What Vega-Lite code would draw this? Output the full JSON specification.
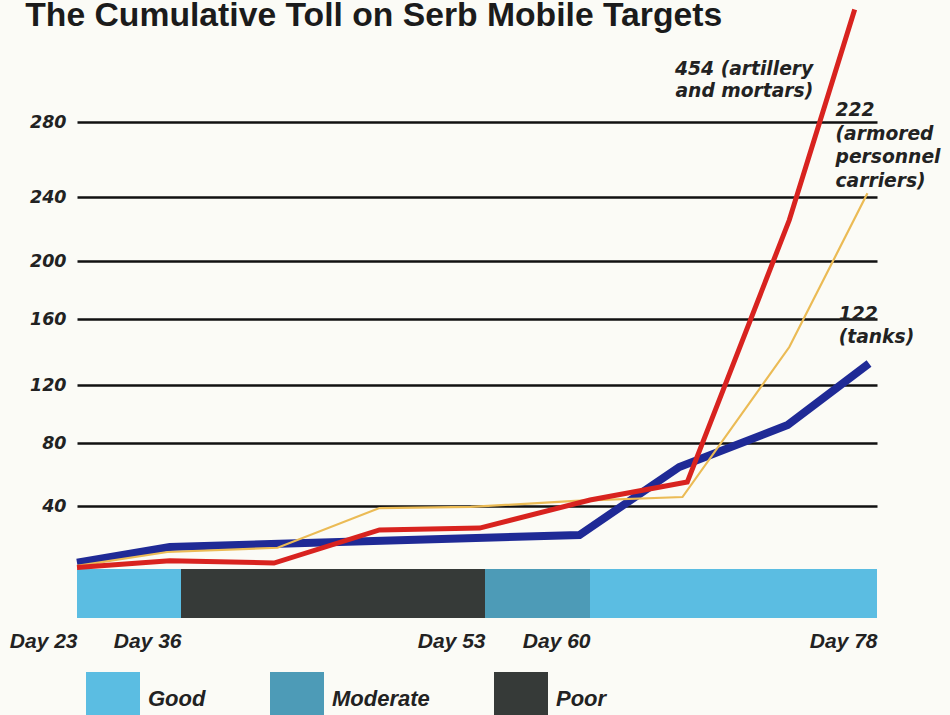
{
  "$schema": "https://vega.github.io/schema/vega-lite/v6.json",
  "width": 800,
  "height": 618,
  "autosize": {"type": "none"},
  "padding": {"left": 77, "top": 0, "right": 73, "bottom": 97},
  "background": "#fbfbf6",
  "title": {
    "text": "The Cumulative Toll on Serb Mobile Targets",
    "anchor": "start",
    "frame": "bounds",
    "font": "Liberation Sans",
    "fontSize": 33.7,
    "fontWeight": "bold",
    "color": "#1b1b1b",
    "baseline": "alphabetic",
    "offset": 0,
    "dy": 60,
    "dx": 16
  },
  "config": {"view": {"stroke": null}},
  "datasets": {
    "weather": [
      {"start": 23, "end": 36, "condition": "Good"},
      {"start": 36, "end": 53, "condition": "Poor"},
      {"start": 53, "end": 60, "condition": "Moderate"},
      {"start": 60, "end": 78, "condition": "Good"}
    ],
    "toll": [
      {"weapon": "Tanks", "day": 23, "count": 4},
      {"weapon": "Tanks", "day": 34.6, "count": 14},
      {"weapon": "Tanks", "day": 41.5, "count": 16},
      {"weapon": "Tanks", "day": 59.3, "count": 21.6},
      {"weapon": "Tanks", "day": 65.6, "count": 64.8},
      {"weapon": "Tanks", "day": 72.4, "count": 92.4},
      {"weapon": "Tanks", "day": 77.5, "count": 133},
      {"weapon": "APC", "day": 23, "count": 2},
      {"weapon": "APC", "day": 34.3, "count": 10.8},
      {"weapon": "APC", "day": 41.4, "count": 13.5},
      {"weapon": "APC", "day": 47.1, "count": 38.7},
      {"weapon": "APC", "day": 52.2, "count": 39.4},
      {"weapon": "APC", "day": 59, "count": 43.2},
      {"weapon": "APC", "day": 65.8, "count": 45.7},
      {"weapon": "APC", "day": 72.5, "count": 143},
      {"weapon": "APC", "day": 77.4, "count": 242},
      {"weapon": "Artillery", "day": 23, "count": 1},
      {"weapon": "Artillery", "day": 34.6, "count": 5.3},
      {"weapon": "Artillery", "day": 41.2, "count": 3.8},
      {"weapon": "Artillery", "day": 47.1, "count": 24.8},
      {"weapon": "Artillery", "day": 52.7, "count": 26},
      {"weapon": "Artillery", "day": 60, "count": 43.8},
      {"weapon": "Artillery", "day": 66.1, "count": 55.2},
      {"weapon": "Artillery", "day": 72.5, "count": 225.6},
      {"weapon": "Artillery", "day": 76.6, "count": 340}
    ]
  },
  "layer": [
    {
      "data": {"name": "weather"},
      "mark": {"type": "rect"},
      "encoding": {
        "x": {
          "field": "start", "type": "quantitative",
          "scale": {"domain": [23, 36, 53, 60, 78], "range": [0, 104, 408, 513, 800], "nice": false, "zero": false},
          "axis": {
            "values": [23, 36, 53, 60, 78],
            "labelExpr": "'Day ' + datum.value",
            "title": null, "domain": false, "ticks": false, "tickSize": 0, "grid": false,
            "labelAlign": "right", "labelBaseline": "top", "labelPadding": 12,
            "labelFont": "Liberation Sans", "labelFontSize": 21, "labelFontWeight": "bold", "labelFontStyle": "italic",
            "labelColor": "#222222", "labelBound": false, "labelOverlap": false, "labelFlush": false
          }
        },
        "x2": {"field": "end"},
        "y": {
          "datum": 0, "type": "quantitative",
          "scale": {"domain": [-30, 0, 40, 80, 120, 160, 200, 240, 280], "range": [618, 569, 506, 443, 385, 319, 261, 197, 122], "nice": false, "zero": false},
          "axis": {
            "values": [40, 80, 120, 160, 200, 240, 280],
            "title": null, "domain": false, "ticks": false, "tickSize": 0,
            "grid": true, "gridColor": "#111111", "gridWidth": 2.5, "gridOpacity": 1,
            "labelPadding": 11, "labelFont": "DejaVu Sans", "labelFontSize": 17.5, "labelFontWeight": "bold", "labelFontStyle": "italic",
            "labelColor": "#222222", "labelBaseline": "middle", "labelOverlap": false, "labelBound": false, "labelFlush": false
          }
        },
        "y2": {"datum": -30},
        "fill": {
          "field": "condition", "type": "nominal",
          "scale": {"domain": ["Good", "Moderate", "Poor"], "range": ["#5bbde2", "#4d9bb7", "#363a38"]},
          "legend": {
            "title": null, "orient": "bottom", "direction": "horizontal",
            "symbolType": "square", "symbolSize": 2916, "symbolStrokeWidth": 0, "symbolOpacity": 1,
            "labelFont": "Liberation Sans", "labelFontSize": 22, "labelFontWeight": "bold", "labelFontStyle": "italic",
            "labelColor": "#222222", "labelOffset": 8, "columnPadding": 64, "offset": 12, "padding": 9
          }
        }
      }
    },
    {
      "data": {"name": "toll"},
      "transform": [{"filter": "datum.weapon === 'Tanks'"}],
      "mark": {"type": "line", "color": "#1f2a96", "strokeWidth": 8},
      "encoding": {
        "x": {"field": "day", "type": "quantitative"},
        "y": {"field": "count", "type": "quantitative"}
      }
    },
    {
      "data": {"name": "toll"},
      "transform": [{"filter": "datum.weapon === 'APC'"}],
      "mark": {"type": "line", "color": "#ebbb55", "strokeWidth": 2.2},
      "encoding": {
        "x": {"field": "day", "type": "quantitative"},
        "y": {"field": "count", "type": "quantitative"}
      }
    },
    {
      "data": {"name": "toll"},
      "transform": [{"filter": "datum.weapon === 'Artillery'"}],
      "mark": {"type": "line", "color": "#d8231f", "strokeWidth": 5},
      "encoding": {
        "x": {"field": "day", "type": "quantitative"},
        "y": {"field": "count", "type": "quantitative"}
      }
    },
    {
      "data": {"values": [{"label": "artillery"}]},
      "mark": {"type": "text", "text": ["454 (artillery", "and mortars)"], "align": "right", "baseline": "alphabetic", "lineHeight": 22, "font": "DejaVu Sans", "fontSize": 18.7, "fontWeight": "bold", "fontStyle": "italic", "color": "#222222"},
      "encoding": {
        "x": {"datum": 74},
        "y": {"datum": 305}
      }
    },
    {
      "data": {"values": [{"label": "apc"}]},
      "mark": {"type": "text", "text": ["222", "(armored", "personnel", "carriers)"], "align": "left", "baseline": "alphabetic", "lineHeight": 23.5, "font": "DejaVu Sans", "fontSize": 18.7, "fontWeight": "bold", "fontStyle": "italic", "color": "#222222"},
      "encoding": {
        "x": {"datum": 75.4},
        "y": {"datum": 283}
      }
    },
    {
      "data": {"values": [{"label": "tanks"}]},
      "mark": {"type": "text", "text": ["122", "(tanks)"], "align": "left", "baseline": "alphabetic", "lineHeight": 23, "font": "DejaVu Sans", "fontSize": 18.7, "fontWeight": "bold", "fontStyle": "italic", "color": "#222222"},
      "encoding": {
        "x": {"datum": 75.6},
        "y": {"datum": 159.4}
      }
    }
  ]
}
